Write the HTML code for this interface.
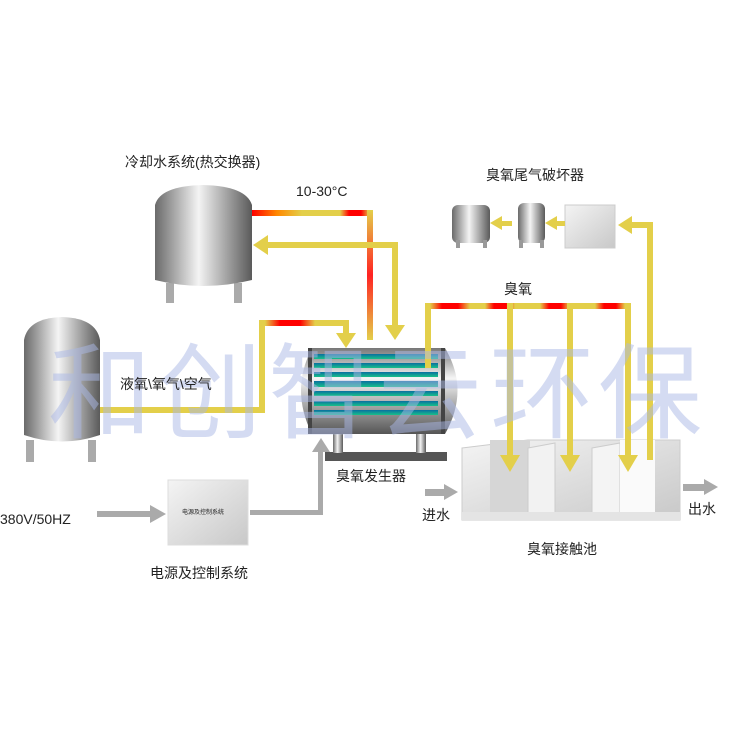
<!DOCTYPE html>
<html><head><meta charset="utf-8"><style>
body{margin:0;background:#fff}
svg{display:block}
text{font-family:"Liberation Sans","Noto Sans CJK SC",sans-serif;fill:#222}
</style></head><body>
<svg width="750" height="750" viewBox="0 0 750 750" xmlns="http://www.w3.org/2000/svg">
<defs>
<linearGradient id="steel" x1="0" x2="1" y1="0" y2="0">
<stop offset="0" stop-color="#6a6a6a"/><stop offset="0.45" stop-color="#f4f4f4"/><stop offset="1" stop-color="#5a5a5a"/></linearGradient>
<linearGradient id="steelv" x1="0" x2="0" y1="0" y2="1">
<stop offset="0" stop-color="#777"/><stop offset="0.35" stop-color="#f5f5f5"/><stop offset="1" stop-color="#555"/></linearGradient>
<linearGradient id="box" x1="0" x2="1" y1="0" y2="1">
<stop offset="0" stop-color="#f4f4f4"/><stop offset="1" stop-color="#c8c8c8"/></linearGradient>
<linearGradient id="hotH" x1="0" x2="1"><stop offset="0" stop-color="#f00"/><stop offset="0.5" stop-color="#f80"/><stop offset="1" stop-color="#e3cf4a"/></linearGradient>
<linearGradient id="hotV" x1="0" x2="0" y1="0" y2="1"><stop offset="0" stop-color="#e3cf4a"/><stop offset="0.5" stop-color="#f22"/><stop offset="1" stop-color="#e3cf4a"/></linearGradient>
<linearGradient id="hotS" x1="0" x2="1"><stop offset="0" stop-color="#e3cf4a"/><stop offset="0.3" stop-color="#f00"/><stop offset="0.7" stop-color="#f00"/><stop offset="1" stop-color="#e3cf4a"/></linearGradient>
<linearGradient id="tube" x1="0" x2="0" y1="0" y2="1"><stop offset="0" stop-color="#0a6fa0"/><stop offset="1" stop-color="#18c08a"/></linearGradient>
</defs>

<!-- cooling tank -->
<rect x="166" y="283" width="8" height="20" fill="#aaa"/><rect x="234" y="283" width="8" height="20" fill="#aaa"/>
<path d="M155 205 Q160 186 203 185 Q246 186 252 205 L252 280 Q203 292 155 280 Z" fill="url(#steel)"/>
<!-- left tank -->
<rect x="26" y="440" width="8" height="22" fill="#aaa"/><rect x="88" y="440" width="8" height="22" fill="#aaa"/>
<path d="M24 340 Q28 318 62 317 Q96 318 100 340 L100 435 Q62 448 24 435 Z" fill="url(#steel)"/>

<!-- pipes cooling -->
<rect x="252" y="210" width="120" height="6" fill="#e3cf4a"/>
<rect x="252" y="210" width="50" height="6" fill="url(#hotH)"/>
<rect x="340" y="210" width="30" height="6" fill="url(#hotS)"/>
<rect x="367" y="210" width="6" height="130" fill="url(#hotV)"/>
<rect x="265" y="242" width="133" height="6" fill="#e3cf4a"/>
<polygon points="253,245 268,235 268,255" fill="#e3cf4a"/>
<rect x="392" y="242" width="6" height="85" fill="#e3cf4a"/>
<polygon points="385,325 405,325 395,340" fill="#e3cf4a"/>
<!-- oxygen pipe -->
<rect x="100" y="407" width="163" height="6" fill="#e3cf4a"/>
<rect x="259" y="320" width="6" height="93" fill="#e3cf4a"/>
<rect x="259" y="320" width="90" height="6" fill="#e3cf4a"/>
<rect x="265" y="320" width="50" height="6" fill="url(#hotS)"/>
<rect x="343" y="320" width="6" height="15" fill="#e3cf4a"/>
<polygon points="336,333 356,333 346,348" fill="#e3cf4a"/>

<!-- generator -->
<rect x="325" y="452" width="122" height="9" fill="#555"/>
<rect x="333" y="430" width="10" height="23" fill="url(#steel)"/><rect x="416" y="430" width="10" height="23" fill="url(#steel)"/>
<path d="M312 348 L445 348 Q470 390 445 434 L312 434 Q290 390 312 348 Z" fill="url(#steelv)"/>
<rect x="308" y="348" width="4" height="86" fill="#444"/><rect x="441" y="348" width="4" height="86" fill="#444"/>
<g fill="url(#tube)">
<rect x="314" y="354" width="124" height="5"/><rect x="314" y="363" width="124" height="5"/><rect x="314" y="372" width="124" height="5"/><rect x="314" y="381" width="124" height="6"/><rect x="314" y="391" width="124" height="5"/><rect x="314" y="401" width="124" height="5"/><rect x="314" y="410" width="124" height="5"/></g>

<!-- ozone pipe -->
<rect x="425" y="303" width="6" height="65" fill="#e3cf4a"/>
<rect x="425" y="303" width="206" height="6" fill="#e3cf4a"/>
<rect x="430" y="303" width="40" height="6" fill="url(#hotS)"/>
<rect x="485" y="303" width="30" height="6" fill="url(#hotS)"/>
<rect x="540" y="303" width="30" height="6" fill="url(#hotS)"/>
<rect x="595" y="303" width="30" height="6" fill="url(#hotS)"/>

<!-- destructor -->
<rect x="452" y="205" width="38" height="38" fill="url(#steel)" rx="6"/><rect x="456" y="240" width="4" height="8" fill="#999"/><rect x="483" y="240" width="4" height="8" fill="#999"/>
<rect x="518" y="203" width="27" height="40" fill="url(#steel)" rx="6"/><rect x="519" y="240" width="4" height="8" fill="#999"/><rect x="540" y="240" width="4" height="8" fill="#999"/>
<rect x="565" y="205" width="50" height="43" fill="url(#box)" stroke="#ccc"/>
<rect x="500" y="221" width="12" height="5" fill="#e3cf4a"/><polygon points="490,223 502,216 502,230" fill="#e3cf4a"/>
<rect x="555" y="221" width="10" height="5" fill="#e3cf4a"/><polygon points="545,223 557,216 557,230" fill="#e3cf4a"/>

<!-- basin -->
<path d="M462 448 L528 440 L680 440 L680 520 L462 520 Z" fill="url(#box)" stroke="#ccc"/>
<rect x="490" y="440" width="40" height="80" fill="#d6d6d6"/>
<path d="M528 448 L555 443 L555 520 L528 520 Z" fill="#f2f2f2" stroke="#ccc"/>
<path d="M592 448 L620 443 L620 520 L592 520 Z" fill="#f4f4f4" stroke="#ccc"/>
<rect x="620" y="440" width="35" height="80" fill="#fafafa"/>
<rect x="462" y="512" width="218" height="8" fill="#e4e4e4"/>
<!-- drops -->
<g fill="#e3cf4a">
<rect x="507" y="303" width="6" height="155"/><polygon points="500,455 520,455 510,472"/>
<rect x="567" y="303" width="6" height="155"/><polygon points="560,455 580,455 570,472"/>
<rect x="625" y="303" width="6" height="155"/><polygon points="618,455 638,455 628,472"/>
<rect x="647" y="222" width="6" height="238"/>
<rect x="630" y="222" width="23" height="6"/><polygon points="618,225 632,216 632,234"/>
</g>
<!-- water arrows -->
<rect x="425" y="489" width="20" height="7" fill="#aaa"/><polygon points="444,484 458,492 444,500" fill="#aaa"/>
<rect x="683" y="484" width="22" height="7" fill="#aaa"/><polygon points="704,479 718,487 704,495" fill="#aaa"/>

<!-- power -->
<rect x="168" y="480" width="80" height="65" fill="url(#box)" stroke="#ddd"/>
<rect x="97" y="511" width="55" height="6" fill="#aaa"/><polygon points="150,505 166,514 150,523" fill="#aaa"/>
<rect x="250" y="510" width="73" height="5" fill="#aaa"/><rect x="318" y="450" width="5" height="65" fill="#aaa"/>
<polygon points="312,452 330,452 321,438" fill="#aaa"/>

<!-- watermark -->
<g font-size="104" style="fill:#a9b8e6" fill-opacity="0.5">
<text x="48" y="430" style="fill:#a9b8e6">和</text>
<text x="158" y="430" style="fill:#a9b8e6">创</text>
<text x="268" y="430" style="fill:#a9b8e6">智</text>
<text x="378" y="430" style="fill:#a9b8e6">云</text>
<text x="490" y="430" style="fill:#a9b8e6">环</text>
<text x="598" y="430" style="fill:#a9b8e6">保</text>
</g>

<!-- labels -->
<text x="125" y="167" font-size="14">冷却水系统(热交换器)</text>
<text x="296" y="196" font-size="14">10-30°C</text>
<text x="486" y="180" font-size="14">臭氧尾气破坏器</text>
<text x="504" y="294" font-size="14">臭氧</text>
<text x="120" y="389" font-size="14">液氧\氧气\空气</text>
<text x="336" y="481" font-size="14">臭氧发生器</text>
<text x="0" y="524" font-size="14">380V/50HZ</text>
<text x="182" y="514" font-size="6">电源及控制系统</text>
<text x="150" y="578" font-size="14">电源及控制系统</text>
<text x="422" y="520" font-size="14">进水</text>
<text x="688" y="514" font-size="14">出水</text>
<text x="527" y="554" font-size="14">臭氧接触池</text>
</svg>
</body></html>
